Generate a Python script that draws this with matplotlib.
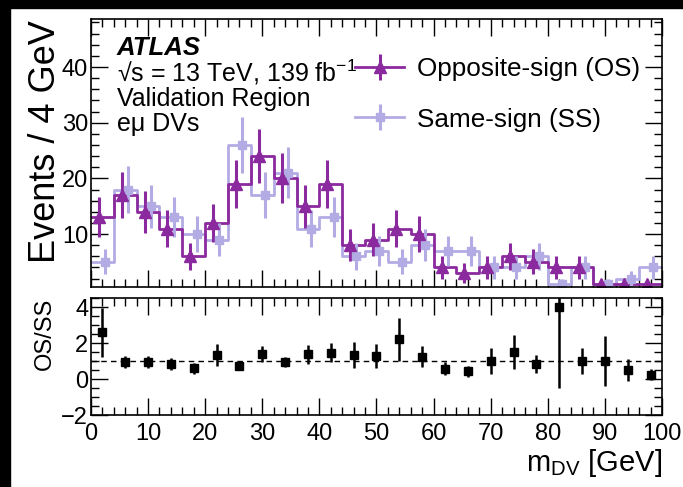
import numpy as np
import matplotlib
matplotlib.use('Agg')
import matplotlib.pyplot as plt
from matplotlib.patches import Rectangle
from matplotlib.ticker import MultipleLocator

plt.rcParams['font.family'] = ['Liberation Sans', 'DejaVu Sans']
plt.rcParams['mathtext.fontset'] = 'custom'
plt.rcParams['mathtext.rm'] = 'Liberation Sans'
plt.rcParams['mathtext.it'] = 'Liberation Sans:italic'

# m_DV binning, 4 GeV bins
bin_edges = np.arange(0, 101, 4)
os_counts = [13, 17, 14, 11, 6, 12, 19, 24, 20, 15, 19, 8, 9, 11, 10, 4, 3, 4, 6, 5, 4, 4, 1, 1, 1]
ss_counts = [5, 18, 15, 13, 10, 9, 26, 17, 21, 11, 13, 6, 7, 5, 8, 7, 7, 4, 4, 6, 1, 4, 1, 2, 4]

os_color = '#8b2a9e'
ss_color = '#b3abe3'

os_counts = np.array(os_counts, dtype=float)
ss_counts = np.array(ss_counts, dtype=float)
centers = 0.5 * (bin_edges[:-1] + bin_edges[1:])
ratio = os_counts / ss_counts
ratio_err = ratio * np.sqrt(1 / os_counts + 1 / ss_counts)

fig = plt.figure(figsize=(6.83, 4.87), dpi=100)
ax = fig.add_axes([0.1332, 0.4107, 0.836, 0.550])
axr = fig.add_axes([0.1332, 0.1478, 0.836, 0.2402])

# step histograms
ss_line, = ax.step(bin_edges, np.append(ss_counts, ss_counts[-1]), where='post',
                   color=ss_color, lw=2)
os_line, = ax.step(bin_edges, np.append(os_counts, os_counts[-1]), where='post',
                   color=os_color, lw=2)

# points with stat errors
ss_eb = ax.errorbar(centers + 0.5, ss_counts, yerr=np.sqrt(ss_counts), fmt='s',
                    color=ss_color, ms=6, elinewidth=2.2, capsize=0)
os_eb = ax.errorbar(centers - 0.6, os_counts, yerr=np.sqrt(os_counts), fmt='^',
                    color=os_color, ms=8, elinewidth=2.2, capsize=0)

ax.set_xlim(0, 100)
ax.set_ylim(0.5, 48.6)
ax.set_xticklabels([])
ax.xaxis.set_major_locator(MultipleLocator(10))
ax.xaxis.set_minor_locator(MultipleLocator(2))
ax.yaxis.set_major_locator(MultipleLocator(10))
ax.yaxis.set_minor_locator(MultipleLocator(2))

# ratio panel
axr.errorbar(centers, ratio, yerr=ratio_err, fmt='s', color='black', ms=6,
             elinewidth=1.8, capsize=0)
axr.axhline(1, color='black', lw=1, ls=(0, (4, 3)))
axr.set_xlim(0, 100)
axr.set_ylim(-2, 4.5)
axr.xaxis.set_major_locator(MultipleLocator(10))
axr.xaxis.set_minor_locator(MultipleLocator(2))
axr.yaxis.set_major_locator(MultipleLocator(2))
axr.yaxis.set_minor_locator(MultipleLocator(0.5))

for a in (ax, axr):
    a.tick_params(which='both', direction='in', top=True, right=True,
                  labelsize=17, width=1)
    a.tick_params(which='major', length=12, pad=2)
    a.tick_params(which='minor', length=6)
    for s in a.spines.values():
        s.set_linewidth(1.2)
axr.tick_params(axis='x', which='major', pad=6)

# labels
fig.text(0.066, 0.959, 'Events / 4 GeV', rotation=90, ha='center', va='top', fontsize=26)
fig.text(0.066, 0.388, 'OS/SS', rotation=90, ha='center', va='top', fontsize=17)
fig.text(0.969, 0.05, r'm$_{\mathrm{DV}}$ [GeV]', ha='right', va='center', fontsize=21)

# ATLAS text block
ax.text(0.045, 0.893, 'ATLAS', transform=ax.transAxes, fontsize=18.5,
        fontweight='bold', fontstyle='italic', va='center')
ax.text(0.045, 0.8, '√s = 13 TeV, 139 fb$^{\\mathrm{-1}}$',
        transform=ax.transAxes, fontsize=18, va='center')
ax.text(0.045, 0.703, 'Validation Region', transform=ax.transAxes, fontsize=18,
        va='center')
ax.text(0.045, 0.61, 'eμ DVs', transform=ax.transAxes, fontsize=18, va='center')

ax.legend([(os_line, os_eb), (ss_line, ss_eb)],
          ['Opposite-sign (OS)', 'Same-sign (SS)'],
          loc='upper left', bbox_to_anchor=(0.462, 0.857), frameon=False,
          fontsize=18.8, handlelength=1.9, handletextpad=0.5, labelspacing=1.0,
          borderpad=0, borderaxespad=0)

# black frame strips seen on the reference image
fig.patches.append(Rectangle((0, 1 - 8 / 487), 1, 8 / 487, transform=fig.transFigure,
                             color='black', zorder=10))
fig.patches.append(Rectangle((0, 0), 10 / 683, 1, transform=fig.transFigure,
                             color='black', zorder=10))

fig.savefig('out.png', dpi=100)
